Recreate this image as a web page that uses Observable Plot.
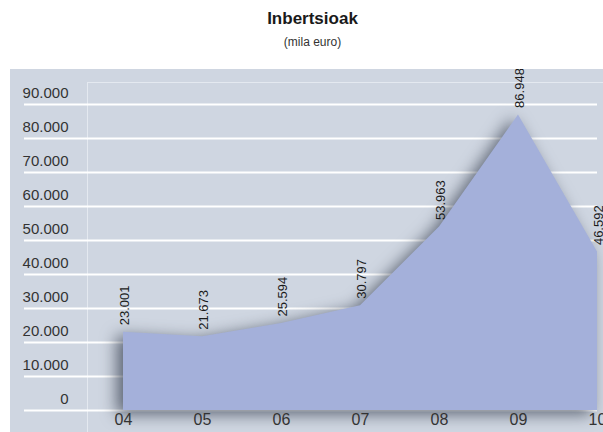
<!DOCTYPE html>
<html>
<head>
<meta charset="utf-8">
<script src="https://cdn.jsdelivr.net/npm/d3@7"></script>
<script src="https://cdn.jsdelivr.net/npm/@observablehq/plot@0.6"></script>
<style>
  html, body { margin: 0; padding: 0; background: #ffffff; }
  body { width: 603px; height: 432px; overflow: hidden; font-family: "Liberation Sans Narrow", "Arial Narrow", "Liberation Sans", Arial, sans-serif; }
  #head { height: 69px; text-align: center; position: relative; }
  #title { position: absolute; left: 0; right: 0; top: 9px; font-size: 17px; font-weight: bold; color: #1a1a1a; padding-left: 22px; }
  #subtitle { position: absolute; left: 0; right: 0; top: 35px; font-size: 12px; color: #333; padding-left: 22px; }
  #chart { margin-left: 10px; width: 593px; height: 363px; background: #cfd6e1; }
  #chart svg { display: block; background: transparent; }
  #chart g[aria-label="area"] { filter: drop-shadow(-6px 4px 8px rgba(40, 48, 65, 0.7)); }
</style>
</head>
<body>
<div id="head">
  <div id="title">Inbertsioak</div>
  <div id="subtitle">(mila euro)</div>
</div>
<div id="chart"></div>
<script>
const years = ["04", "05", "06", "07", "08", "09", "10"];
const values = [23001, 21673, 25594, 30797, 53963, 86948, 46592];
const yTicks = [0, 10000, 20000, 30000, 40000, 50000, 60000, 70000, 80000, 90000];

const data = years.map((y, i) => ({ year: y, value: values[i] }));
const fmt = d => d.toLocaleString("de-DE");

const chart = Plot.plot({
  width: 593,
  height: 363,
  marginLeft: 113,
  marginRight: 6,
  marginTop: 35,
  marginBottom: 22,
  style: { fontFamily: '"Liberation Sans Narrow", "Arial Narrow", "Liberation Sans", Arial, sans-serif', background: "transparent" },
  x: { type: "point", domain: years, padding: 0 },
  y: { domain: [0, 90000] },
  marks: [
    Plot.frame({ stroke: "#e4e9f0", strokeWidth: 1, insetLeft: -36, insetTop: -22, insetBottom: -30, insetRight: -10 }),
    Plot.ruleY(yTicks, { stroke: "#ffffff", strokeWidth: 2, insetLeft: -99 }),
    Plot.areaY(data, { x: "year", y: "value", fill: "#a4b0da" }),
    Plot.text(data, {
      x: "year", y: "value", text: d => fmt(d.value),
      rotate: -90, textAnchor: "start", dy: -7, dx: 1,
      fontSize: 13, fill: "#1a1a1a"
    }),
    Plot.axisY(yTicks, {
      tickSize: 0, tickPadding: 55, dy: -11, tickFormat: fmt,
      fontSize: 15, fill: "#333", label: null
    }),
    Plot.axisX(years, {
      tickSize: 0, tickPadding: 3, fontSize: 16, fill: "#333", label: null
    })
  ]
});
document.getElementById("chart").appendChild(chart);
</script>
</body>
</html>
